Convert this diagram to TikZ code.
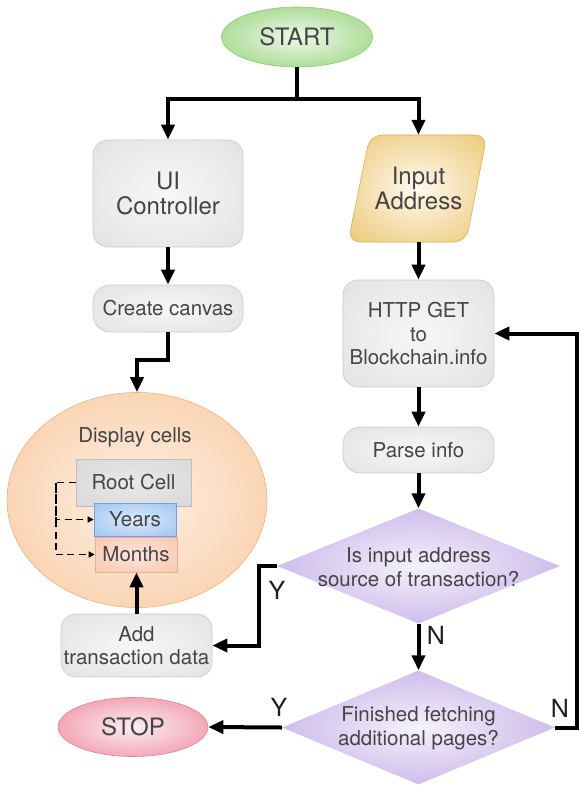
\documentclass[tikz,border=0pt]{standalone}
\usepackage{fontspec}
\setmainfont{TeX Gyre Heros}
\usetikzlibrary{shapes.geometric,arrows.meta,calc}
\definecolor{txt}{HTML}{454545}
\definecolor{labc}{HTML}{1E1E1E}
\definecolor{gin}{HTML}{F7F7F7}
\definecolor{gout}{HTML}{DADADA}
\definecolor{gedge}{HTML}{C9C9C9}
\definecolor{grin}{HTML}{F0F8EA}
\definecolor{grout}{HTML}{6DC24B}
\definecolor{gredge}{HTML}{8CCB72}
\definecolor{orin}{HTML}{FFF9EE}
\definecolor{orout}{HTML}{E5B447}
\definecolor{oredge}{HTML}{D9AE55}
\definecolor{pein}{HTML}{FDF0E6}
\definecolor{peout}{HTML}{F8BB84}
\definecolor{peedge}{HTML}{EBB27F}
\definecolor{rtin}{HTML}{E8E8E8}
\definecolor{rtout}{HTML}{D2D2D2}
\definecolor{rtedge}{HTML}{BDBDBD}
\definecolor{blin}{HTML}{DCEAFC}
\definecolor{blout}{HTML}{86B6EE}
\definecolor{bledge}{HTML}{6FA2E0}
\definecolor{smin}{HTML}{FDE6DC}
\definecolor{smout}{HTML}{F6B99E}
\definecolor{smedge}{HTML}{EFAE92}
\definecolor{puin}{HTML}{F5F2FC}
\definecolor{puout}{HTML}{A888DA}
\definecolor{rdin}{HTML}{FCEEF2}
\definecolor{rdout}{HTML}{E8627E}
\definecolor{rdedge}{HTML}{E47F95}
\pgfdeclareradialshading{shgray}{\pgfpoint{0bp}{0bp}}{color(0bp)=(gin); color(50bp)=(gout)}
\pgfdeclareradialshading{shgreen}{\pgfpoint{0bp}{0bp}}{color(0bp)=(grin); color(50bp)=(grout)}
\pgfdeclareradialshading{shorange}{\pgfpoint{0bp}{0bp}}{color(0bp)=(orin); color(50bp)=(orout)}
\pgfdeclareradialshading{shpeach}{\pgfpoint{0bp}{0bp}}{color(0bp)=(pein); color(50bp)=(peout)}
\pgfdeclareradialshading{shroot}{\pgfpoint{0bp}{0bp}}{color(0bp)=(rtin); color(50bp)=(rtout)}
\pgfdeclareradialshading{shblue}{\pgfpoint{0bp}{0bp}}{color(0bp)=(blin); color(50bp)=(blout)}
\pgfdeclareradialshading{shsalmon}{\pgfpoint{0bp}{0bp}}{color(0bp)=(smin); color(50bp)=(smout)}
\pgfdeclareradialshading{shpurple}{\pgfpoint{0bp}{0bp}}{color(0bp)=(puin); color(50bp)=(puout)}
\pgfdeclareradialshading{shred}{\pgfpoint{0bp}{0bp}}{color(0bp)=(rdin); color(50bp)=(rdout)}
\begin{document}
\begin{tikzpicture}[x=1pt,y=1pt,
  base/.style={text=txt, align=center, font=\fontsize{20.5}{23.5}\selectfont, inner sep=0pt},
  big/.style={font=\fontsize{24}{25.5}\selectfont},
  gbox/.style={base, rectangle, rounded corners=15pt, draw=gedge, line width=0.6pt, shade, shading=shgray},
  arr/.style={line width=4pt, -{Triangle[length=15pt,width=13pt]}},
  plainline/.style={line width=4pt},
  dline/.style={line width=1.8pt, dash pattern=on 7pt off 4.5pt, -{Triangle[length=6pt,width=6pt]}},
  lab/.style={text=labc, inner sep=0pt, font=\fontsize{25}{25}\selectfont}
]
\useasboundingbox (0,0) rectangle (579,-786);

% left column
\node[base, big, ellipse, minimum width=151pt, minimum height=60pt, draw=gredge, line width=0.6pt, shade, shading=shgreen] (start) at (297,-37) {START};
\node[gbox, big, minimum width=150pt, minimum height=107pt] (ui) at (168,-193.5) {UI\\Controller};
\node[gbox, minimum width=150pt, minimum height=47pt, rounded corners=17pt] (create) at (168,-308.5) {Create canvas};

\node[ellipse, minimum width=260pt, minimum height=215pt, draw=peedge, line width=0.6pt, shade, shading=shpeach] (disp) at (137,-500) {};
\node[base] (dtitle) at (135,-437) {Display cells};
\node[base, rectangle, minimum width=115pt, minimum height=47pt, draw=rtedge, line width=0.6pt, shade, shading=shroot] (root) at (133.5,-482.5) {Root Cell};
\node[base, rectangle, minimum width=82pt, minimum height=33pt, draw=bledge, line width=0.6pt, shade, shading=shblue] (years) at (135,-519.5) {Years};
\node[base, rectangle, minimum width=82pt, minimum height=35pt, draw=smedge, line width=0.6pt, shade, shading=shsalmon] (months) at (136,-554.5) {Months};

\node[gbox, minimum width=151pt, minimum height=63pt] (add) at (136.5,-645.5) {Add\\transaction data};
\node[base, big, ellipse, minimum width=150pt, minimum height=59pt, draw=rdedge, line width=0.6pt, shade, shading=shred] (stop) at (133,-727) {STOP};

% right column
\shadedraw[shading=shorange, draw=oredge, line width=0.6pt, rounded corners=12pt] (370,-135) -- (487,-135) -- (466,-242) -- (348,-242) -- cycle;
\node[base, big, minimum width=118pt, minimum height=107pt] (inp) at (418.5,-188.5) {Input\\Address};
\node[gbox, minimum width=151pt, minimum height=107pt] (http) at (418.5,-333.5) {HTTP GET\\to\\Blockchain.info};
\node[gbox, minimum width=151pt, minimum height=46pt, rounded corners=17pt] (parse) at (418.5,-450) {Parse info};

\node[diamond, inner sep=0pt, minimum width=283pt, minimum height=115pt, shade, shading=shpurple] (d1) at (418.5,-566) {};
\node[base] (d1t) at (418.5,-567) {Is input address\\source of transaction?};
\node[diamond, inner sep=0pt, minimum width=273pt, minimum height=114pt, shade, shading=shpurple] (d2) at (418.5,-727.5) {};
\node[base] (d2t) at (418.5,-728) {Finished fetching\\additional pages?};

% connectors
\coordinate (split) at (297,-99);
\draw[plainline] (start.south) -- (split);
\draw[arr] (split) -| (ui.north);
\draw[arr] (split) -| (inp.north);
\draw[arr] (ui.south) -- (create.north);
\draw[arr] (create.south) -- ++(0,-28) -| (disp.north);
\coordinate (dk) at ($(root.west)+(-20,0)$);
\draw[dline] (root.west) -- (dk) |- (months.west);
\draw[dline] (dk) |- (years.west);
\draw[arr] (add.north) -- (add.north |- months.south);

\draw[arr] (inp.south) -- (http.north);
\draw[arr] (http.south) -- (parse.north);
\draw[arr] (parse.south) -- (d1.north);
\coordinate (ybend) at (259,-566);
\draw[arr] (d1.west) -- (ybend) |- (add.east);
\draw[arr] (d1.south) -- (d2.north);
\draw[arr] (d2.west) -- (stop.east);
\coordinate (nbend) at (577,-727.5);
\draw[arr] (d2.east) -- (nbend) |- (http.east);

% labels
\node[lab] (ly1) at (277,-590) {Y};
\node[lab] (ln1) at (436,-635) {N};
\node[lab] (ly2) at (279,-707) {Y};
\node[lab] (ln2) at (560,-708) {N};
\end{tikzpicture}
\end{document}
